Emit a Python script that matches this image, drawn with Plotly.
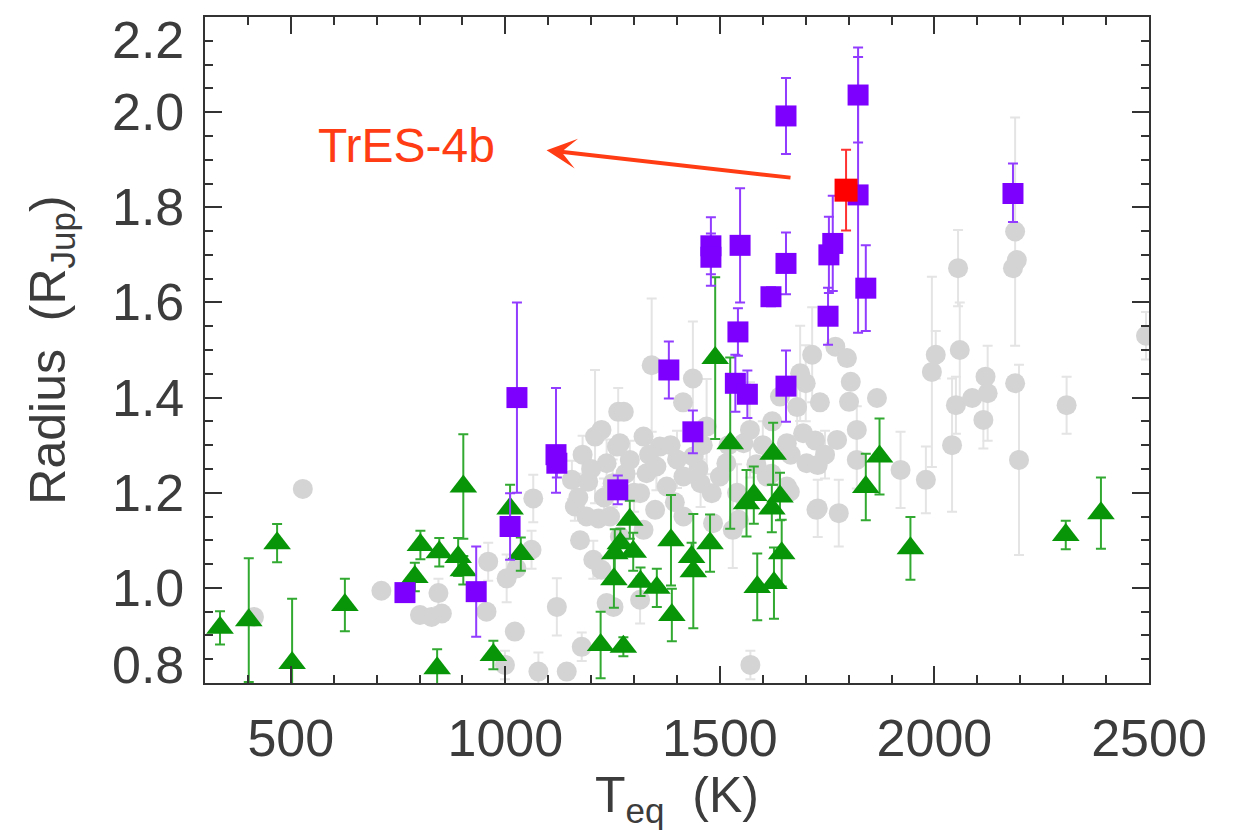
import plotly.graph_objects as go

# ---------------- data ----------------
# Gray circles (comparison sample): Teq (K), radius (RJup), error
gray_teq = [414, 528, 711, 801, 828, 844, 852, 956, 960, 999, 1003, 1022, 1026, 1061, 1065,
            1077, 1120, 1143, 1155, 1162, 1174, 1178, 1189, 1193, 1205, 1209, 1217, 1224, 1224,
            1236, 1236, 1244, 1252, 1260, 1263, 1267, 1267, 1276, 1290, 1314, 1314, 1322, 1322,
            1329, 1341, 1349, 1360, 1376, 1414, 1415, 1415, 1437, 1438, 1469, 1481, 1484, 1500,
            1515, 1530, 1544, 1555, 1570, 1571, 1609, 1640, 1656, 1656, 1663, 1687, 1694, 1700,
            1702, 1715, 1722, 1725, 1728, 1728, 1733, 1769, 1773, 1777, 1796, 1801, 1805, 1819,
            1819, 1866, 1921, 1980, 1994, 2003, 2041, 2050, 2055, 2059, 2088, 2114, 2119, 2124,
            2188, 2183, 2192, 2188, 2197, 2308, 2493,
            1180, 1200, 1250, 1280, 1300, 1335, 1352, 1385, 1400, 1450, 1460, 1520, 1540, 1585,
            1600, 1622, 1680, 1665, 1745, 1170, 1230, 1395, 1455, 1620]
gray_r = [0.939, 1.208, 0.994, 0.943, 0.939, 0.989, 0.946, 0.950, 1.055, 0.838, 1.020, 0.908,
          1.041, 1.080, 1.188, 0.824, 0.960, 0.824, 1.227, 1.171, 1.100, 0.876, 1.150, 1.223,
          1.059, 1.318, 1.146, 1.038, 1.332, 1.262, 0.968, 1.150, 0.960, 1.297, 1.370, 1.304,
          1.108, 1.370, 1.269, 1.199, 0.975, 1.318, 1.122, 1.241, 1.468, 1.164, 1.297, 1.213,
          1.390, 1.234, 1.150, 1.440, 1.276, 1.339, 1.199, 1.136, 1.234, 1.262, 1.122, 1.143,
          1.304, 1.332, 0.838, 1.234, 1.402, 1.304, 1.213, 1.202, 1.451, 1.325, 1.430, 1.262,
          1.490, 1.310, 1.164, 1.258, 1.167, 1.390, 1.507, 1.311, 1.157, 1.483, 1.391, 1.433,
          1.332, 1.269, 1.399, 1.248, 1.227, 1.454, 1.490, 1.300, 1.384, 1.672, 1.500, 1.399,
          1.353, 1.444, 1.409, 1.430, 1.672, 1.689, 1.749, 1.269, 1.384, 1.530,
          1.280, 1.250, 1.220, 1.240, 1.200, 1.280, 1.255, 1.300, 1.270, 1.250, 1.300, 1.300,
          1.200, 1.260, 1.300, 1.350, 1.380, 1.280, 1.280, 1.190, 1.190, 1.180, 1.220, 1.240]
gray_err = [0, 0, 0, 0, 0, 0.03, 0, 0, 0.04, 0.03, 0.05, 0, 0, 0.04, 0.05, 0.04, 0.06, 0, 0.04,
            0.03, 0, 0.03, 0, 0, 0.04, 0.14, 0, 0, 0, 0.05, 0, 0, 0, 0, 0.05, 0, 0, 0, 0.04, 0,
            0.05, 0, 0, 0, 0.14, 0, 0, 0, 0, 0, 0, 0.12, 0, 0.10, 0, 0, 0, 0, 0.08, 0, 0, 0.10,
            0.03, 0, 0, 0, 0, 0, 0.10, 0, 0.08, 0, 0.10, 0, 0, 0, 0.06, 0, 0, 0, 0.07, 0, 0, 0,
            0.05, 0.06, 0, 0.08, 0.07, 0.20, 0.05, 0.14, 0.06, 0.08, 0.10, 0, 0.06, 0, 0.10, 0,
            0, 0, 0.24, 0.20, 0.06, 0.05,
            0.04, 0, 0.05, 0, 0.04, 0, 0.05, 0, 0.06, 0, 0.05, 0, 0.06, 0, 0.05, 0, 0.06, 0,
            0.05, 0, 0.04, 0, 0.05, 0]

# Green triangles
green_teq = [335, 402, 468, 503, 626, 789, 802, 841, 846, 890, 902, 902, 972, 1011, 1036, 1222,
             1255, 1253, 1268, 1275, 1290, 1298, 1315, 1353, 1386, 1388, 1434, 1438, 1477, 1489,
             1524, 1562, 1579, 1587, 1621, 1624, 1626, 1640, 1644, 1840, 1872, 1944, 2306, 2388]
green_r = [0.916, 0.932, 1.094, 0.842, 0.964, 1.023, 1.090, 0.831, 1.075, 1.065, 1.037, 1.213,
           0.859, 1.167, 1.071, 0.880, 1.073, 1.018, 1.094, 0.876, 1.143, 1.076, 1.013, 1.000,
           1.100, 0.943, 1.065, 1.035, 1.094, 1.483, 1.304, 1.178, 1.195, 1.002, 1.167, 1.282,
           1.010, 1.192, 1.073, 1.212, 1.276, 1.083, 1.111, 1.157]
green_err = [0.035, 0.13, 0.04, 0.135, 0.055, 0.03, 0.03, 0.04, 0.03, 0.04, 0.03, 0.11, 0.03,
             0.05, 0.035, 0.07, 0.05, 0.06, 0.03, 0.02, 0.04, 0.04, 0.03, 0.04, 0.095, 0.055,
             0.03, 0.12, 0.06, 0.17, 0.18, 0.07, 0.06, 0.07, 0.05, 0.065, 0.075, 0.05, 0.07,
             0.07, 0.08, 0.066, 0.03, 0.075]

# Purple squares
purple_teq = [766, 932, 1011, 1027, 1118, 1120, 1262, 1381, 1437, 1479, 1479, 1547, 1542, 1536,
              1564, 1654, 1654, 1654, 1619, 1752, 1754, 1763, 1822, 1822, 1840, 2183]
purple_r = [0.990, 0.992, 1.129, 1.400, 1.280, 1.262, 1.206, 1.458, 1.328, 1.719, 1.695, 1.720,
            1.538, 1.430, 1.407, 1.424, 1.992, 1.682, 1.612, 1.571, 1.700, 1.724, 2.036, 1.826,
            1.630, 1.829]
purple_err_up = [0.01, 0.095, 0.07, 0.20, 0.14, 0.03, 0.03, 0.06, 0.045, 0.06, 0.05, 0.12, 0.05,
                 0.06, 0.05, 0.075, 0.08, 0.065, 0.02, 0.06, 0.08, 0.10, 0.10, 0.29, 0.09, 0.063]
purple_err_dn = [0.01, 0.095, 0.07, 0.20, 0.08, 0.03, 0.03, 0.06, 0.045, 0.06, 0.06, 0.12, 0.05,
                 0.06, 0.05, 0.075, 0.08, 0.065, 0.02, 0.06, 0.08, 0.10, 0.10, 0.29, 0.09, 0.06]

# Highlighted planet
tres_teq = [1794]
tres_r = [1.836]
tres_err = [0.085]

label_text = "TrES-4b"
label_pos = (770, 1.93)
arrow_head = (1096, 1.920)
arrow_tail = (1668, 1.862)

x_range = [300, 2500]
y_range = [0.8, 2.2]
x_ticks = [500, 1000, 1500, 2000, 2500]
x_ticktext = ["500", "1000", "1500", "2000", "2500"]
y_ticks = [0.8, 1.0, 1.2, 1.4, 1.6, 1.8, 2.0, 2.2]
y_ticktext = ["0.8", "1.0", "1.2", "1.4", "1.6", "1.8", "2.0", "2.2"]

# ---------------- figure ----------------
fig = go.Figure()

fig.add_trace(go.Scatter(
    x=gray_teq, y=gray_r, mode="markers",
    marker=dict(symbol="circle", size=20, color="rgb(212,212,212)", line=dict(width=0)),
    error_y=dict(type="data", array=gray_err, visible=True, color="rgb(228,228,228)",
                 thickness=2, width=5),
    hoverinfo="skip"))

fig.add_trace(go.Scatter(
    x=green_teq, y=green_r, mode="markers",
    marker=dict(symbol="triangle-up", size=24, color="rgb(8,150,8)", line=dict(width=0)),
    error_y=dict(type="data", array=green_err, visible=True, color="rgb(50,170,50)",
                 thickness=2, width=5),
    hoverinfo="skip"))

fig.add_trace(go.Scatter(
    x=purple_teq, y=purple_r, mode="markers",
    marker=dict(symbol="square", size=21, color="rgb(125,0,255)", line=dict(width=0)),
    error_y=dict(type="data", symmetric=False, array=purple_err_up, arrayminus=purple_err_dn,
                 visible=True, color="rgb(145,60,255)", thickness=2, width=5),
    hoverinfo="skip"))

fig.add_trace(go.Scatter(
    x=tres_teq, y=tres_r, mode="markers",
    marker=dict(symbol="square", size=23, color="rgb(255,0,0)", line=dict(width=0)),
    error_y=dict(type="data", array=tres_err, visible=True, color="rgb(255,50,50)",
                 thickness=2, width=5),
    hoverinfo="skip"))

red = "rgb(255,60,20)"
fig.add_annotation(x=label_pos[0], y=label_pos[1], xref="x", yref="y", text=label_text,
                   showarrow=False, font=dict(family="Liberation Sans, Arial", size=48, color=red))
fig.add_annotation(x=arrow_head[0], y=arrow_head[1], xref="x", yref="y",
                   ax=arrow_tail[0], ay=arrow_tail[1], axref="x", ayref="y",
                   text="", showarrow=True, arrowhead=3, arrowsize=1.25, arrowwidth=4,
                   arrowcolor=red)

axis_color = "#333333"
font_family = "Liberation Sans, Arial, sans-serif"
tick_font = dict(family=font_family, size=52, color="#3c3c3c")
title_font = dict(family=font_family, size=50, color="#3c3c3c")

# y tick labels: written next to the axis, the two end labels tucked inside the frame
n_y = len(y_ticks)
for i, (val, txt) in enumerate(zip(y_ticks, y_ticktext)):
    shift = 0
    if i == 0:
        shift = 18
    elif i == n_y - 1:
        shift = -23
    fig.add_annotation(x=0, y=val, xref="paper", yref="y", text=txt, showarrow=False,
                       xanchor="right", yanchor="middle", xshift=-19, yshift=shift,
                       font=tick_font)

fig.update_xaxes(
    range=x_range, tickmode="array", tickvals=x_ticks, ticktext=x_ticktext,
    ticks="inside", ticklen=17, tickwidth=2, tickcolor=axis_color,
    minor=dict(dtick=100, tick0=0, ticks="inside", ticklen=8, tickwidth=2,
               tickcolor=axis_color, showgrid=False),
    showline=True, linewidth=2, linecolor=axis_color, mirror="allticks",
    showgrid=False, zeroline=False, tickfont=tick_font, ticklabelstandoff=9,
    automargin=False,
    title=dict(text="T<sub>eq</sub>\u00a0\u00a0(K)", font=title_font, standoff=10))

fig.update_yaxes(
    range=y_range, tickmode="array", tickvals=y_ticks, ticktext=y_ticktext,
    showticklabels=False,
    ticks="inside", ticklen=17, tickwidth=2, tickcolor=axis_color,
    minor=dict(dtick=0.05, tick0=0, ticks="inside", ticklen=8, tickwidth=2,
               tickcolor=axis_color, showgrid=False),
    showline=True, linewidth=2, linecolor=axis_color, mirror="allticks",
    showgrid=False, zeroline=False, automargin=False,
    title=dict(text="Radius\u00a0\u00a0(R<sub>Jup</sub>)", font=title_font, standoff=122))

fig.update_layout(
    width=1243, height=834,
    margin=dict(l=205, r=94, t=17, b=151),
    plot_bgcolor="white", paper_bgcolor="white",
    showlegend=False,
)

fig.write_html("out.html", config={"displayModeBar": False},
               post_script="document.body.style.margin='0px';")
